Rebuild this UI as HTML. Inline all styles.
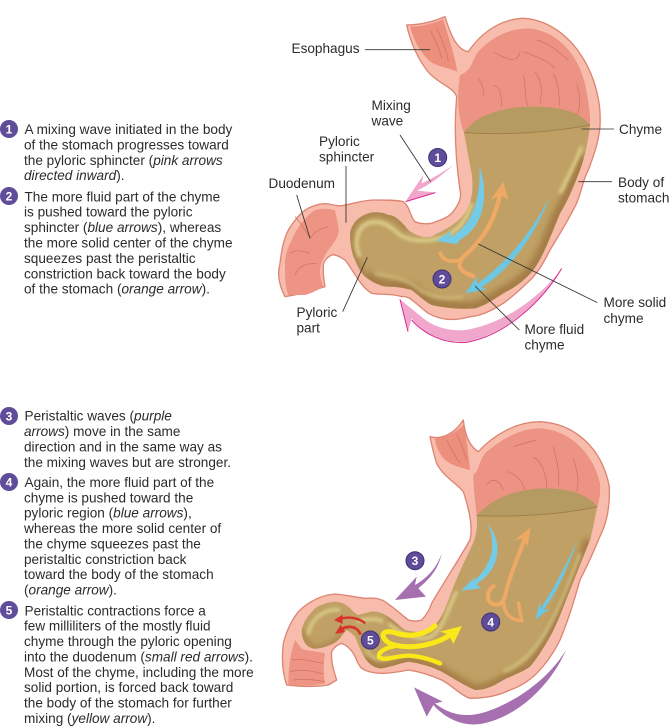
<!DOCTYPE html>
<html><head><meta charset="utf-8"><style>
html,body{margin:0;padding:0;background:#fff;width:670px;height:726px;overflow:hidden}
svg{display:block}
text{font-family:"Liberation Sans",Arial,sans-serif;font-size:13.6px;fill:#2b2b2b}
.n{font-size:12px;font-weight:bold;fill:#fff;text-anchor:middle}
</style></head><body>
<svg width="670" height="726" viewBox="0 0 670 726" xmlns="http://www.w3.org/2000/svg">
<defs>
<filter id="b3" x="-20%" y="-20%" width="140%" height="140%"><feGaussianBlur stdDeviation="8"/></filter>
<filter id="b1" x="-20%" y="-20%" width="140%" height="140%"><feGaussianBlur stdDeviation="4.5"/></filter>
<clipPath id="c1"><path d="M612 398C620 440 625 470 635 520C645 590 625 640 590 665C560 690 530 700 515 710C490 715 465 705 445 690C425 665 405 645 385 645C365 635 340 635 325 640C295 650 275 670 270 700C270 730 275 760 285 780C295 805 305 820 315 830C335 845 360 860 385 860C410 860 435 865 455 870C475 885 495 905 515 915C560 925 600 928 645 925C680 915 705 895 730 880C770 860 800 835 820 810C850 770 875 700 900 640C925 600 945 550 960 510C975 470 985 420 990 375C860 400 720 405 612 398Z"/></clipPath>
<clipPath id="c2"><path d="M650 347C655 400 640 430 625 460C600 510 580 560 565 600C550 640 540 660 525 675C510 690 500 695 485 695C465 697 450 695 435 690C415 675 400 660 385 650C370 640 350 632 335 635C320 638 305 642 295 645C285 640 280 635 275 630C260 612 240 605 225 605C200 607 180 615 165 625C145 645 130 665 125 690C125 710 130 725 140 735C150 745 165 748 175 745C200 742 225 730 235 720C245 710 252 695 260 690C270 695 280 705 285 710C295 735 305 760 315 775C330 795 345 805 365 805C395 800 420 790 445 785C480 790 515 800 545 815C580 835 610 855 645 870C680 870 705 855 730 840C760 825 790 815 810 800C835 770 850 745 870 710C895 665 910 620 930 570C950 520 970 470 990 420C1000 385 1005 350 1012 320C900 345 760 352 650 347Z"/></clipPath>
</defs>
<rect width="670" height="726" fill="#fff"/>

<!-- TOP STOMACH -->
<g transform="translate(260 0) scale(.33333)">
<path d="M555 50C570 100 590 150 625 155C655 110 710 58 790 55C880 60 960 130 1000 240C1020 300 1022 340 1020 380C1015 430 1000 470 985 510C965 550 970 560 950 610C920 670 900 700 870 750C850 790 830 825 800 850C770 880 750 895 730 910C690 935 660 948 630 950C580 965 540 960 505 940C470 915 450 885 425 890C395 880 360 885 335 880C300 860 280 810 255 780C240 770 225 762 215 765C195 775 190 790 190 800C188 825 193 845 195 860C150 875 110 885 75 890C55 850 52 820 60 790C65 750 70 720 85 690C110 650 130 630 155 620C180 610 195 610 205 612C225 616 240 620 255 615C285 610 310 600 345 600C380 600 410 600 430 605C450 620 450 650 465 665C480 672 500 672 515 670C540 660 560 655 575 640C600 610 605 590 600 570C590 500 580 400 590 290C580 260 530 250 500 210C470 170 450 120 440 75C480 75 520 65 555 50Z" fill="#f8bcad" stroke="#dd8472" stroke-width="4" stroke-linejoin="round"/>
<!-- fundus -->
<path d="M600 225C630 215 635 190 650 160C690 115 740 88 800 85C880 88 950 150 975 250C985 300 992 340 990 378L612 398C590 340 592 280 600 225Z" fill="#ec9384"/>
<path d="M672 290C670 260 665 250 655 235M700 260C720 245 725 300 725 320M790 225C800 260 790 290 805 320M825 215C850 250 845 280 840 310M880 220C900 260 895 290 900 320M950 250C965 300 960 330 950 345M700 155C740 180 770 190 780 158M790 155C830 170 860 180 885 205M830 120C870 130 900 160 925 180" fill="none" stroke="#cf6f5e" stroke-width="2"/>
<!-- esophagus -->
<path d="M450 80C480 80 520 70 550 58C565 110 585 170 592 215C550 200 520 195 505 180C475 150 460 115 450 80Z" fill="#ed8f7d"/>
<path d="M510 90C525 120 540 150 545 175M530 85C545 115 560 150 565 185" fill="none" stroke="#cf6f5e" stroke-width="2"/>
<!-- duodenum -->
<path d="M225 630C205 625 185 625 165 630C135 650 110 685 95 720C80 750 75 770 75 790C75 825 75 860 85 885C105 885 120 885 135 885C155 880 175 870 190 860C185 845 178 825 180 810C185 780 195 765 205 750C225 725 240 705 235 680C232 660 228 645 225 630Z" fill="#ee9484"/>
<path d="M150 715C130 680 115 660 105 650M150 760C120 750 105 750 90 760M170 790C135 790 115 800 105 825M205 680C170 690 160 700 150 715" fill="none" stroke="#cf6f5e" stroke-width="2"/>
<!-- chyme -->
<path d="M612 398C620 440 625 470 635 520C645 590 625 640 590 665C560 690 530 700 515 710C490 715 465 705 445 690C425 665 405 645 385 645C365 635 340 635 325 640C295 650 275 670 270 700C270 730 275 760 285 780C295 805 305 820 315 830C335 845 360 860 385 860C410 860 435 865 455 870C475 885 495 905 515 915C560 925 600 928 645 925C680 915 705 895 730 880C770 860 800 835 820 810C850 770 875 700 900 640C925 600 945 550 960 510C975 470 985 420 990 375C860 400 720 405 612 398Z" fill="#c0a064"/>
<g clip-path="url(#c1)">
<path d="M975 470C945 550 925 600 900 640C875 700 850 770 820 810C800 835 770 860 730 880C705 895 680 915 645 925C600 928 560 925 515 915C495 905 475 885 455 870C435 865 410 860 385 860C360 860 335 845 315 830" fill="none" stroke="#a07842" stroke-width="42" filter="url(#b3)" opacity=".85"/>
<path d="M315 830C305 820 295 805 285 780C275 760 270 730 270 700C275 670 295 650 325 640C340 635 365 635 385 645C405 645 425 665 445 690" fill="none" stroke="#a07842" stroke-width="22" filter="url(#b3)" opacity=".7"/>
<path d="M965 440C945 490 925 530 900 580M300 770C280 730 290 680 330 668C370 660 390 680 420 705C450 725 500 725 540 715C590 700 620 660 635 610" fill="none" stroke="#dccf8b" stroke-width="11" filter="url(#b1)"/>
<path d="M345 820C400 830 440 835 480 870C510 890 560 900 610 890" fill="none" stroke="#cdbb78" stroke-width="8" filter="url(#b1)"/>
</g>
<path d="M612 398C650 340 740 320 820 320C900 320 960 335 990 375C850 405 710 405 612 398Z" fill="#b59a62"/>
<path d="M612 398C720 405 860 400 990 375" fill="none" stroke="#a2804b" stroke-width="3"/>
<!-- blue -->
<path d="M658 497C690 590 670 680 600 720L590 733L528 722L575 692L568 712C620 690 665 620 658 497Z" fill="#73cbe6"/>
<path d="M870 588C830 700 750 810 665 862L680 868L616 880L652 828L650 852C740 790 820 690 870 588Z" fill="#6cc7e4"/>
<!-- orange -->
<path d="M722 575C705 660 670 720 610 770C590 795 595 815 645 830" fill="none" stroke="#eeaa64" stroke-width="13"/>
<path d="M610 775C580 790 545 785 540 755" fill="none" stroke="#eeaa64" stroke-width="11"/>
<path d="M730 545L745 600L722 585L692 600Z" fill="#eeaa64"/>
<!-- pink arrows -->
<path d="M582 494C550 520 520 550 470 572L530 578L436 605L490 525L485 550C520 535 550 515 582 494Z" fill="#f1a7cc"/>
<path d="M437 605L526 578" stroke="#d72b90" stroke-width="3"/>
<path d="M905 805C850 900 740 1000 620 1025C550 1030 490 1000 455 955L444 995L420 898L494 958C530 985 590 1000 640 985C750 960 850 880 905 805Z" fill="#f1a7cc"/>
<path d="M905 805C850 900 740 1005 620 1027C550 1033 490 1000 455 960M444 995L420 898" fill="none" stroke="#d72b90" stroke-width="3"/>
<!-- leader lines -->
<g stroke="#333" stroke-width="2.6" fill="none">
<path d="M315 149H510M420 405L512 545M258 498V668M110 585L150 715M965 387H1062M955 545H1056M655 732L1012 908M645 858L778 990M248 935L322 772"/>
</g>
</g>
<circle cx="437.700" cy="157.500" r="9" fill="#5f4d9a" stroke="#3d2f75"/><text class="n" x="437.700" y="161.800">1</text>
<circle cx="442" cy="279" r="9" fill="#5f4d9a" stroke="#3d2f75"/><text class="n" x="442" y="283.300">2</text>
<text x="291.500" y="53">Esophagus</text>
<text x="371.500" y="110">Mixing</text><text x="371.500" y="125.500">wave</text>
<text x="319" y="146">Pyloric</text><text x="319" y="161.500">sphincter</text>
<text x="268.500" y="188">Duodenum</text>
<text x="619" y="134">Chyme</text>
<text x="618" y="187">Body of</text><text x="618" y="202.500">stomach</text>
<text x="603.500" y="307">More solid</text><text x="603.500" y="323">chyme</text>
<text x="524.500" y="334">More fluid</text><text x="524.500" y="349.500">chyme</text>
<text x="296.500" y="317">Pyloric</text><text x="296.500" y="332.500">part</text>

<!-- BOTTOM STOMACH -->
<g transform="translate(260 400) scale(.33333)">
<path d="M610 60C615 110 630 140 655 155C700 105 770 65 840 65C940 70 1025 140 1048 260C1050 340 1035 380 1015 420C995 470 980 500 960 540C940 610 925 660 900 720C880 760 860 790 830 820C805 845 780 860 750 870C710 890 670 895 630 895C600 885 575 855 545 840C510 825 480 815 445 810C420 815 390 820 365 820C340 820 320 815 305 805C290 790 290 775 280 760C270 745 260 735 245 730C230 735 220 745 215 755C212 785 222 815 230 840L205 855C160 862 120 860 80 855C65 810 65 770 70 730C80 690 95 660 115 635C145 605 185 585 225 582C260 585 290 592 315 595C340 592 360 596 375 605C405 625 425 645 445 660C460 664 475 664 485 660C500 645 510 625 515 610C540 565 590 490 630 420C640 380 625 320 610 275C590 250 550 230 530 190C520 160 515 135 510 110C545 120 585 100 610 60Z" fill="#f8bcad" stroke="#dd8472" stroke-width="4" stroke-linejoin="round"/>
<path d="M640 225C660 210 655 180 680 155C730 115 780 85 840 85C930 90 1000 160 1020 250C1022 280 1018 300 1012 320L650 347C645 300 640 260 640 225Z" fill="#ec9384"/>
<path d="M680 255C695 230 720 240 730 270M740 215C770 220 790 250 795 270M820 170C850 190 860 230 860 265M880 140C890 180 900 215 895 260M940 175C950 210 960 240 950 275M760 140C790 130 810 125 830 120" fill="none" stroke="#cf6f5e" stroke-width="2"/>
<path d="M525 115C555 115 590 95 610 75C620 110 625 160 630 210C590 200 555 190 540 160C530 145 527 130 525 115Z" fill="#ed8f7d"/>
<path d="M560 120C575 150 590 175 600 190M590 100C605 135 615 160 620 180" fill="none" stroke="#cf6f5e" stroke-width="2"/>
<path d="M105 720C95 750 85 790 85 855C120 858 160 858 195 850C190 820 190 790 195 760C170 752 140 755 125 745Z" fill="#ee9484"/>
<path d="M95 780C130 775 160 785 190 790M90 815C130 805 165 815 190 822M100 840C140 835 165 840 195 845" fill="none" stroke="#cf6f5e" stroke-width="2"/>
<path d="M650 347C655 400 640 430 625 460C600 510 580 560 565 600C550 640 540 660 525 675C510 690 500 695 485 695C465 697 450 695 435 690C415 675 400 660 385 650C370 640 350 632 335 635C320 638 305 642 295 645C285 640 280 635 275 630C260 612 240 605 225 605C200 607 180 615 165 625C145 645 130 665 125 690C125 710 130 725 140 735C150 745 165 748 175 745C200 742 225 730 235 720C245 710 252 695 260 690C270 695 280 705 285 710C295 735 305 760 315 775C330 795 345 805 365 805C395 800 420 790 445 785C480 790 515 800 545 815C580 835 610 855 645 870C680 870 705 855 730 840C760 825 790 815 810 800C835 770 850 745 870 710C895 665 910 620 930 570C950 520 970 470 990 420C1000 385 1005 350 1012 320C900 345 760 352 650 347Z" fill="#c0a064"/>
<g clip-path="url(#c2)">
<path d="M990 420C970 470 950 520 930 570C910 620 895 665 870 710C850 745 835 770 810 800C790 815 760 825 730 840C705 855 680 870 645 870C610 855 580 835 545 815C515 800 480 790 445 785C420 790 395 800 365 805C345 805 330 795 315 775" fill="none" stroke="#a07842" stroke-width="34" filter="url(#b3)" opacity=".8"/>
<path d="M125 690C130 725 150 745 175 745C200 742 225 730 235 720C245 710 252 695 260 690M385 650C415 675 435 690 485 695C510 690 525 675 545 640" fill="none" stroke="#a07842" stroke-width="18" filter="url(#b3)" opacity=".6"/>
<path d="M590 575C565 620 555 680 510 712C470 722 420 700 385 670M145 705C150 660 190 625 240 630M290 665C320 655 350 655 370 665" fill="none" stroke="#dccf8b" stroke-width="10" filter="url(#b1)"/>
<path d="M960 460C930 540 900 620 860 690C825 750 790 790 730 815M320 750C340 785 360 780 390 770" fill="none" stroke="#d2c380" stroke-width="9" filter="url(#b1)"/>
</g>
<path d="M650 347C700 290 780 265 860 265C930 265 985 285 1012 320C900 345 760 352 650 347Z" fill="#b59a62"/>
<path d="M650 347C760 352 900 345 1012 320" fill="none" stroke="#a2804b" stroke-width="3"/>
<!-- blue -->
<path d="M682 370C725 420 730 500 650 552L662 565L603 572L648 528L640 545C690 500 715 440 682 370Z" fill="#73cbe6"/>
<path d="M953 418C925 500 890 580 850 630L870 625L825 660L840 605L842 625C885 560 925 480 953 418Z" fill="#6cc7e4"/>
<!-- orange -->
<path d="M795 415C770 480 745 540 735 590C725 620 700 620 685 600C680 580 690 565 705 555" fill="none" stroke="#eeaa64" stroke-width="12"/>
<path d="M730 595C730 640 750 660 785 662C780 640 778 620 775 605" fill="none" stroke="#eeaa64" stroke-width="10"/>
<path d="M812 382L803 440L790 415L765 420Z" fill="#eeaa64"/>
<!-- yellow -->
<g fill="none" stroke="#fbe818" stroke-linecap="round">
<path d="M525 677C495 705 450 712 410 700C385 690 365 695 370 710C378 730 400 738 440 740C490 742 540 725 570 705" stroke-width="15"/>
<path d="M400 740C370 745 352 760 358 772C375 785 410 765 450 767C490 770 520 782 540 790" stroke-width="13"/>
</g>
<path d="M606 678L580 732L565 703L540 695Z" fill="#fbe818"/>
<!-- red -->
<g fill="none" stroke="#d8322a">
<path d="M316 670C290 650 260 650 235 658" stroke-width="7"/>
<path d="M302 704C290 675 260 675 238 692" stroke-width="8"/>
</g>
<path d="M222 660L248 644L248 672Z" fill="#d8322a"/>
<path d="M225 702L242 674L255 696Z" fill="#d8322a"/>
<!-- purple -->
<path d="M545 460C535 510 505 540 475 565L498 590L405 600L470 530L465 555C500 535 530 505 545 460Z" fill="#a66fb0"/>
<path d="M918 750C880 840 790 940 680 968C620 985 560 960 520 915L500 950L462 862L548 905L525 910C570 945 620 955 680 935C780 900 870 830 918 750Z" fill="#a66fb0"/>
</g>
<circle cx="415" cy="560.700" r="9" fill="#5f4d9a" stroke="#3d2f75"/><text class="n" x="415" y="565">3</text>
<circle cx="490.700" cy="622" r="9" fill="#5f4d9a" stroke="#3d2f75"/><text class="n" x="490.700" y="626.300">4</text>
<circle cx="370.300" cy="640" r="9" fill="#5f4d9a" stroke="#3d2f75"/><text class="n" x="370.300" y="644.300">5</text>

<!-- LEFT TEXT -->
<g fill="#5f4d9a">
<circle cx="9" cy="129" r="9"/><circle cx="9" cy="196" r="9"/><circle cx="9" cy="416" r="9"/><circle cx="9" cy="482" r="9"/><circle cx="9" cy="610" r="9"/>
</g>
<text class="n" x="9" y="133.300">1</text><text class="n" x="9" y="200.300">2</text><text class="n" x="9" y="420.300">3</text><text class="n" x="9" y="486.300">4</text><text class="n" x="9" y="614.300">5</text>
<text x="24.500" y="134">A mixing wave initiated in the body</text>
<text x="24" y="149.400">of the stomach progresses toward</text>
<text x="24" y="164.800">the pyloric sphincter (<tspan font-style="italic">pink arrows</tspan></text>
<text x="24" y="180.200"><tspan font-style="italic">directed inward</tspan>).</text>
<text x="24.500" y="201.300">The more fluid part of the chyme</text>
<text x="24" y="216.700">is pushed toward the pyloric</text>
<text x="24" y="232.100">sphincter (<tspan font-style="italic">blue arrows</tspan>), whereas</text>
<text x="24" y="247.500">the more solid center of the chyme</text>
<text x="24" y="262.900">squeezes past the peristaltic</text>
<text x="24" y="278.300">constriction back toward the body</text>
<text x="24" y="293.700">of the stomach (<tspan font-style="italic">orange arrow</tspan>).</text>
<text x="24.500" y="420.700">Peristaltic waves (<tspan font-style="italic">purple</tspan></text>
<text x="24" y="436.100"><tspan font-style="italic">arrows</tspan>) move in the same</text>
<text x="24" y="451.400">direction and in the same way as</text>
<text x="24" y="466.800">the mixing waves but are stronger.</text>
<text x="24.500" y="487">Again, the more fluid part of the</text>
<text x="24" y="502.400">chyme is pushed toward the</text>
<text x="24" y="517.700">pyloric region (<tspan font-style="italic">blue arrows</tspan>),</text>
<text x="24" y="533.100">whereas the more solid center of</text>
<text x="24" y="548.500">the chyme squeezes past the</text>
<text x="24" y="563.800">peristaltic constriction back</text>
<text x="24" y="579.200">toward the body of the stomach</text>
<text x="24" y="594.600">(<tspan font-style="italic">orange arrow</tspan>).</text>
<text x="24.500" y="615.300">Peristaltic contractions force a</text>
<text x="24" y="630.700">few milliliters of the mostly fluid</text>
<text x="24" y="646">chyme through the pyloric opening</text>
<text x="24" y="661.400">into the duodenum (<tspan font-style="italic">small red arrows</tspan>).</text>
<text x="24" y="676.800">Most of the chyme, including the more</text>
<text x="24" y="692.100">solid portion, is forced back toward</text>
<text x="24" y="707.500">the body of the stomach for further</text>
<text x="24" y="722.900">mixing (<tspan font-style="italic">yellow arrow</tspan>).</text>
</svg>
</body></html>
